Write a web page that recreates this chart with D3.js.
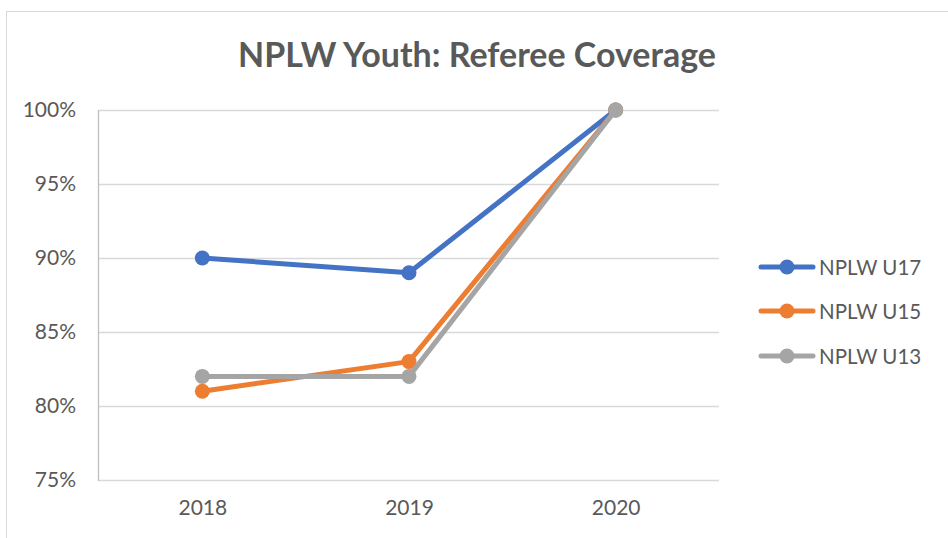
<!DOCTYPE html>
<html><head><meta charset="utf-8">
<script src="https://cdn.jsdelivr.net/npm/d3@7"></script>
<style>html,body{margin:0;padding:0;background:#fff;}svg{display:block;}</style>
</head><body>
<svg id="c" width="948" height="538"></svg>
<script>
const categories = ["2018", "2019", "2020"];
const seriesNames = ["NPLW U17", "NPLW U15", "NPLW U13"];
const u17 = [0.90, 0.89, 1.00];
const u15 = [0.81, 0.83, 1.00];
const u13 = [0.82, 0.82, 1.00];
const yTicks = [0.75, 0.80, 0.85, 0.90, 0.95, 1.00];
const colors = ["#4472C4", "#ED7D31", "#A5A5A5"];
const titleText = "NPLW Youth: Referee Coverage";

const series = [u17, u15, u13].map((v, i) => ({name: seriesNames[i], values: v, color: colors[i]}));

const svg = d3.select("#c");
const font = "Lato, 'Open Sans', sans-serif";
const textColor = "#595959";

// chart border
svg.append("rect").attr("x", 6.5).attr("y", 11.5).attr("width", 960).attr("height", 560)
  .attr("fill", "#fff").attr("stroke", "#d9d9d9").attr("stroke-width", 1);

const pL = 99, pR = 719, pT = 110, pB = 480;
const x = d3.scalePoint().domain(categories).range([pL, pR]).padding(0.5);
const y = d3.scaleLinear().domain([0.75, 1.0]).range([pB, pT]);

// gridlines
svg.append("g").selectAll("line").data(yTicks).join("line")
  .attr("x1", pL).attr("x2", pR)
  .attr("y1", d => Math.round(y(d)) + 0.5).attr("y2", d => Math.round(y(d)) + 0.5)
  .attr("stroke", "#d9d9d9").attr("stroke-width", 1.3);

// vertical axis line
svg.append("line").attr("x1", pL - 0.5).attr("x2", pL - 0.5).attr("y1", pT).attr("y2", pB + 1)
  .attr("stroke", "#bfbfbf").attr("stroke-width", 1.3);

// y axis
const yAxis = d3.axisLeft(y).tickValues(yTicks).tickFormat(d3.format(".0%")).tickSize(0).tickPadding(23);
const yg = svg.append("g").attr("transform", `translate(${pL},0)`).call(yAxis);
yg.select(".domain").remove();
yg.selectAll("text").attr("font-family", font).attr("font-size", 21).attr("fill", textColor);

// x axis
const xAxis = d3.axisBottom(x).tickSize(0).tickPadding(20);
const xg = svg.append("g").attr("transform", `translate(0,${pB})`).call(xAxis);
xg.select(".domain").remove();
xg.selectAll("text").attr("font-family", font).attr("font-size", 21).attr("fill", textColor);

// lines
const line = d3.line().x((d, i) => x(categories[i])).y(d => y(d));
const sg = svg.append("g").selectAll("g").data(series).join("g");
sg.append("path").attr("d", d => line(d.values)).attr("fill", "none")
  .attr("stroke", d => d.color).attr("stroke-width", 5).attr("stroke-linejoin", "round").attr("stroke-linecap", "round");
sg.selectAll("circle").data(d => d.values.map((v, i) => ({v, i, c: d.color}))).join("circle")
  .attr("cx", d => x(categories[d.i])).attr("cy", d => y(d.v)).attr("r", 7.5).attr("fill", d => d.c);

// title
const t = svg.append("text").attr("x", 477).attr("y", 67).attr("text-anchor", "middle")
  .attr("font-family", font).attr("font-weight", "bold").attr("font-size", 30).attr("fill", textColor)
  .text(titleText);
const tl = t.node().getComputedTextLength();
t.attr("font-size", 30 * 478 / tl);

// legend
const legY = [267, 311, 356];
const lg = svg.append("g").selectAll("g").data(series).join("g")
  .attr("transform", (d, i) => `translate(0,${legY[i]})`);
lg.append("line").attr("x1", 761).attr("x2", 813).attr("y1", 0).attr("y2", 0)
  .attr("stroke", d => d.color).attr("stroke-width", 5).attr("stroke-linecap", "round");
lg.append("circle").attr("cx", 787).attr("cy", 0).attr("r", 7.5).attr("fill", d => d.color);
lg.append("text").attr("x", 819).attr("y", 7.5).attr("font-family", font).attr("font-size", 20.5)
  .attr("fill", textColor).text(d => d.name);
</script>
</body></html>
